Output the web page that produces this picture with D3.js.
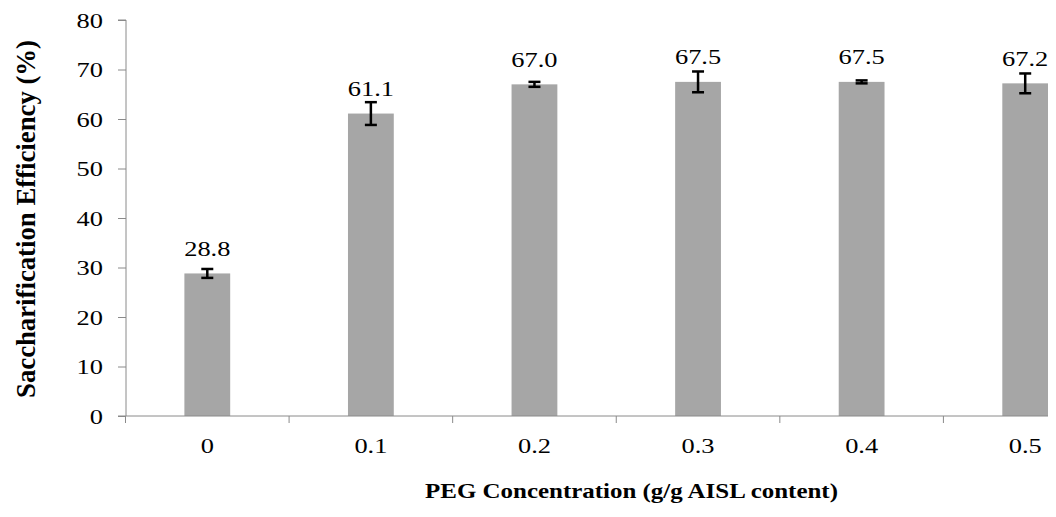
<!DOCTYPE html>
<html lang="en">
<head>
  <meta charset="UTF-8" />
  <title>Saccharification Efficiency</title>
  <style>
    body { margin: 0; background: #fff; }
    svg { display: block; }
  </style>
</head>
<body>
  <svg id="chart" width="1056" height="517"></svg>

  <script src="https://d3js.org/d3.v7.min.js"></script>
  <script>
    const categories = ["0", "0.1", "0.2", "0.3", "0.4", "0.5"];
    const values = [28.8, 61.1, 67.0, 67.5, 67.5, 67.2];
    const errors = [0.9, 2.3, 0.5, 2.1, 0.3, 2.0];
    const yTicks = [0, 10, 20, 30, 40, 50, 60, 70, 80];

    const FONT = "Liberation Serif";
    const SX = 1.2; // glyphs in the original look stretched sideways
    const svg = d3.select("#chart");
    const axisColor = "#8a8a8a";

    const x = d3.scaleBand().domain(categories).range([125.5, 1107]).padding(0);
    const y = d3.scaleLinear().domain([0, 80]).range([416, 20]);
    const barW = x.bandwidth() * 0.28;
    const cx = c => x(c) + x.bandwidth() / 2;

    // clip at the right edge like the cropped original
    svg.append("clipPath").attr("id", "clip")
      .append("rect").attr("x", 0).attr("y", 0).attr("width", 1048).attr("height", 517);

    const plot = svg.append("g").attr("clip-path", "url(#clip)");

    // bars
    plot.selectAll("rect.bar")
      .data(values)
      .join("rect")
      .attr("class", "bar")
      .attr("x", (d, i) => cx(categories[i]) - barW / 2)
      .attr("y", d => y(d))
      .attr("width", barW)
      .attr("height", d => y(0) - y(d))
      .attr("fill", "#a6a6a6");

    // error bars
    const err = plot.selectAll("g.err")
      .data(values)
      .join("g")
      .attr("class", "err")
      .attr("transform", (d, i) => `translate(${cx(categories[i])},0)`)
      .attr("stroke", "#000").attr("stroke-width", 2.5);

    err.append("line")
      .attr("y1", (d, i) => y(d + errors[i]))
      .attr("y2", (d, i) => y(d - errors[i]));
    err.append("line")
      .attr("x1", -6).attr("x2", 6)
      .attr("y1", (d, i) => y(d + errors[i])).attr("y2", (d, i) => y(d + errors[i]));
    err.append("line")
      .attr("x1", -6).attr("x2", 6)
      .attr("y1", (d, i) => y(d - errors[i])).attr("y2", (d, i) => y(d - errors[i]));

    // value labels
    plot.selectAll("text.val")
      .data(values)
      .join("text")
      .attr("class", "val")
      .attr("transform", (d, i) => `translate(${cx(categories[i])},${y(d) - 17.5}) scale(${SX},1)`)
      .attr("text-anchor", "middle")
      .attr("font-family", FONT)
      .attr("font-size", 22)
      .text(d => d.toFixed(1));

    // y axis
    const yAxis = svg.append("g")
      .attr("transform", "translate(126,0)")
      .call(d3.axisLeft(y).tickValues(yTicks).tickSize(8).tickPadding(11.2))
      .attr("font-family", FONT)
      .attr("font-size", 22);
    yAxis.selectAll("path, line").attr("stroke", axisColor);
    yAxis.select(".domain").attr("d", `M-8,${y(80)}H0V${y(0)}`);
    yAxis.selectAll("text").attr("fill", "#000").attr("transform", `scale(${SX},1)`);

    // x axis: ticks at category boundaries
    const xAxis = svg.append("g").attr("clip-path", "url(#clip)");
    xAxis.append("line")
      .attr("x1", 118).attr("x2", 1107)
      .attr("y1", y(0)).attr("y2", y(0))
      .attr("stroke", axisColor);
    xAxis.selectAll("line.tick")
      .data(categories)
      .join("line")
      .attr("class", "tick")
      .attr("x1", d => x(d)).attr("x2", d => x(d))
      .attr("y1", y(0)).attr("y2", y(0) + 7)
      .attr("stroke", axisColor);
    xAxis.selectAll("text")
      .data(categories)
      .join("text")
      .attr("transform", d => `translate(${cx(d)},453) scale(${SX},1)`)
      .attr("text-anchor", "middle")
      .attr("font-family", FONT)
      .attr("font-size", 22)
      .text(d => d);

    // axis titles
    svg.append("text")
      .attr("x", 631.5).attr("y", 497.5)
      .attr("text-anchor", "middle")
      .attr("font-family", FONT)
      .attr("font-size", 22).attr("font-weight", "bold")
      .attr("textLength", 413).attr("lengthAdjust", "spacingAndGlyphs")
      .text("PEG Concentration (g/g AISL content)");

    svg.append("text")
      .attr("transform", `translate(34.5,219) rotate(-90) scale(1,${SX})`)
      .attr("text-anchor", "middle")
      .attr("font-family", FONT)
      .attr("font-size", 22).attr("font-weight", "bold")
      .attr("textLength", 358).attr("lengthAdjust", "spacingAndGlyphs")
      .text("Saccharification Efficiency (%)");
  </script>
</body>
</html>
